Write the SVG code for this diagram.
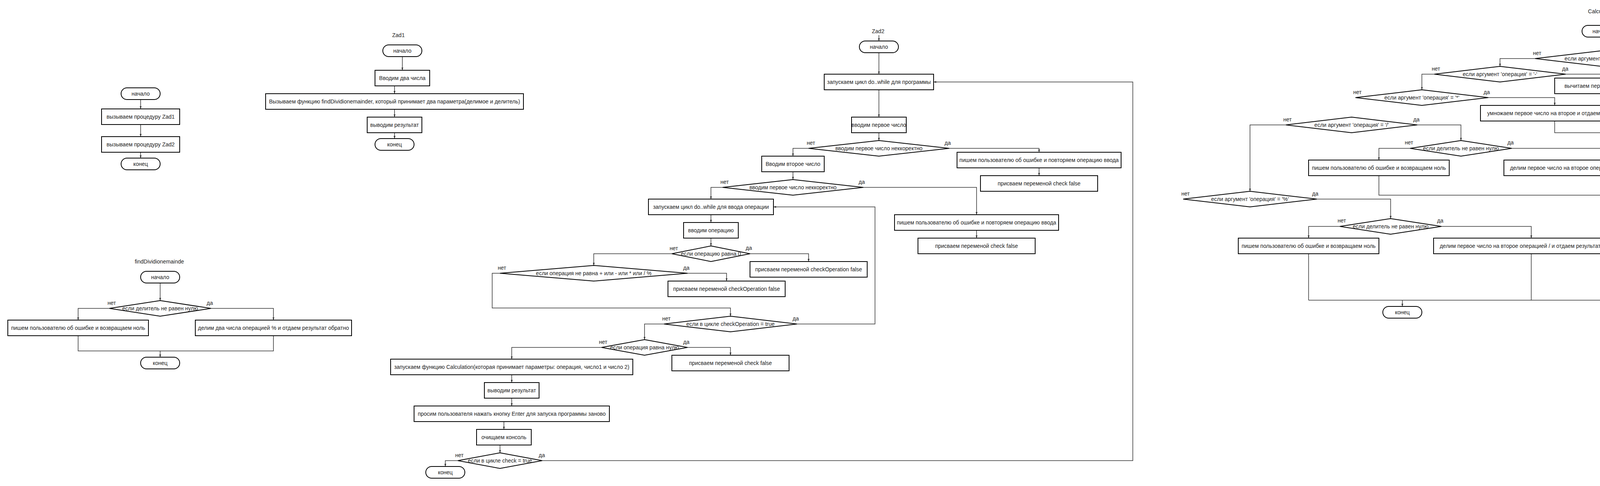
<svg xmlns="http://www.w3.org/2000/svg" width="4820" height="1245" viewBox="0 0 4820 1245">
<style>
.b{fill:#fff;stroke:#000;stroke-width:2}
.t{font-family:"Liberation Sans",Arial,sans-serif;font-size:14px;fill:#222;text-anchor:middle;dominant-baseline:central;white-space:pre}
.c{fill:none;stroke:#333;stroke-width:1.5}
.ca{fill:none;stroke:#333;stroke-width:1.5;marker-end:url(#a)}
</style>
<defs>
<marker id="a" viewBox="0 0 8 6" refX="8" refY="3" markerWidth="7" markerHeight="5" orient="auto" markerUnits="userSpaceOnUse"><path d="M0,0 L8,3 L0,6 z" fill="#333"/></marker>
</defs>
<rect width="4820" height="1245" fill="#fff"/>

<g id="connectors">
<path class="ca" d="M360,255 V279"/>
<path class="ca" d="M360,319 V350"/>
<path class="ca" d="M360,390 V405"/>
<path class="ca" d="M410,725 V770"/>
<path class="ca" d="M280,790 H200 V820"/>
<path class="ca" d="M540,790 H700 V820"/>
<path class="ca" d="M200,860 V899 H410 V915"/>
<path class="c" d="M700,860 V899 H410"/>
<path class="ca" d="M1030,145 V180"/>
<path class="ca" d="M1010,220 V240"/>
<path class="ca" d="M1010,280 V300"/>
<path class="ca" d="M1010,340 V355"/>
<path class="ca" d="M2250,90 V105"/>
<path class="ca" d="M2250,135 V190"/>
<path class="ca" d="M2250,230 V300"/>
<path class="ca" d="M2250,340 V360"/>
<path class="ca" d="M2430,380 H2660 V390"/>
<path class="ca" d="M2660,430 V450"/>
<path class="ca" d="M2070,380 H2030 V400"/>
<path class="ca" d="M2030,440 V460"/>
<path class="ca" d="M2210,480 H2500 V550"/>
<path class="ca" d="M2500,590 V610"/>
<path class="ca" d="M1850,480 H1820 V510"/>
<path class="ca" d="M1820,550 V570"/>
<path class="ca" d="M1820,610 V630"/>
<path class="ca" d="M1920,650 H2070 V670"/>
<path class="ca" d="M1720,650 H1520 V680"/>
<path class="ca" d="M1760,700 H1860 V720"/>
<path class="ca" d="M1280,700 H1260 V789 H1870 V810"/>
<path class="ca" d="M2040,830 H2240 V530 H1980"/>
<path class="ca" d="M1700,830 H1650 V870"/>
<path class="ca" d="M1760,890 H1870 V910"/>
<path class="ca" d="M1540,890 H1310 V920"/>
<path class="ca" d="M1310,960 V980"/>
<path class="ca" d="M1310,1020 V1040"/>
<path class="ca" d="M1290,1080 V1100"/>
<path class="ca" d="M1280,1140 V1160"/>
<path class="ca" d="M1172,1180 H1140 V1195"/>
<path class="ca" d="M1388,1180 H2900 V210 H2390"/>
<path class="ca" d="M4100,40 V65"/>
<path class="ca" d="M4100,95 V130"/>
<path class="ca" d="M4270,150 H4600 V160"/>
<path class="ca" d="M3930,150 H3840 V170"/>
<path class="ca" d="M4008,190 H4180 V200"/>
<path class="ca" d="M3672,190 H3640 V230"/>
<path class="ca" d="M3810,250 H3980 V270"/>
<path class="ca" d="M3628,320 H3740 V360"/>
<path class="ca" d="M3292,320 H3200 V490"/>
<path class="ca" d="M3610,380 H3530 V410"/>
<path class="ca" d="M3870,380 H4100 V410"/>
<path class="ca" d="M3371,510 H3560 V560"/>
<path class="ca" d="M3430,580 H3350 V610"/>
<path class="ca" d="M3690,580 H3920 V610"/>
<path class="c" d="M4600,200 V769"/>
<path class="c" d="M4180,240 V320 H4490 V769"/>
<path class="c" d="M3980,310 V340 H4420 V769"/>
<path class="c" d="M3530,450 V500 H4340 V769"/>
<path class="c" d="M4100,450 V600 H4230 V769"/>
<path class="c" d="M3350,650 V769"/>
<path class="c" d="M3920,650 V769"/>
<path class="c" d="M3350,769 H4600"/>
<path class="ca" d="M3590,769 V785"/>
</g>

<g id="m_start"><rect class="b" x="310" y="225" width="100" height="30" rx="15"/><text class="t" x="360" y="240">начало</text></g>
<g id="m_z1"><rect class="b" x="260" y="279" width="200" height="40"/><text class="t" x="360" y="299">вызываем процедуру Zad1</text></g>
<g id="m_z2"><rect class="b" x="260" y="350" width="200" height="40"/><text class="t" x="360" y="370">вызываем процедуру Zad2</text></g>
<g id="m_end"><rect class="b" x="310" y="405" width="100" height="30" rx="15"/><text class="t" x="360" y="420">конец</text></g>

<g id="fd_title"><text class="t" x="408" y="670">findDividionemainde</text></g>
<g id="fd_start"><rect class="b" x="360" y="695" width="100" height="30" rx="15"/><text class="t" x="410" y="710">начало</text></g>
<g id="fd_dec"><polygon class="b" points="410,770 540,790 410,810 280,790"/><text class="t" x="410" y="790">если делитель не равен нулю</text><text class="t" x="286" y="776">нет</text><text class="t" x="537" y="776">да</text></g>
<g id="fd_err"><rect class="b" x="20" y="820" width="360" height="40"/><text class="t" x="200" y="840">пишем пользователю об ошибке и возвращаем ноль</text></g>
<g id="fd_ok"><rect class="b" x="500" y="820" width="400" height="40"/><text class="t" x="700" y="840">делим два числа операцией % и отдаем результат обратно</text></g>
<g id="fd_end"><rect class="b" x="360" y="915" width="100" height="30" rx="15"/><text class="t" x="410" y="930">конец</text></g>

<g id="z1_title"><text class="t" x="1020" y="90">Zad1</text></g>
<g id="z1_start"><rect class="b" x="980" y="115" width="100" height="30" rx="15"/><text class="t" x="1030" y="130">начало</text></g>
<g id="z1_in"><rect class="b" x="960" y="180" width="140" height="40"/><text class="t" x="1030" y="200">Вводим два числа</text></g>
<g id="z1_call"><rect class="b" x="680" y="240" width="660" height="40"/><text class="t" x="1010" y="260">Вызываем функцию findDividionemainder, который принимает два параметра(делимое и делитель)</text></g>
<g id="z1_out"><rect class="b" x="940" y="300" width="140" height="40"/><text class="t" x="1010" y="320">выводим результат</text></g>
<g id="z1_end"><rect class="b" x="960" y="355" width="100" height="30" rx="15"/><text class="t" x="1010" y="370">конец</text></g>

<g id="z2_title"><text class="t" x="2248" y="80">Zad2</text></g>
<g id="z2_start"><rect class="b" x="2200" y="105" width="100" height="30" rx="15"/><text class="t" x="2250" y="120">начало</text></g>
<g id="z2_loop"><rect class="b" x="2110" y="190" width="280" height="40"/><text class="t" x="2250" y="210">запускаем цикл do..while для программы</text></g>
<g id="z2_in1"><rect class="b" x="2180" y="300" width="140" height="40"/><text class="t" x="2250" y="320">вводим первое число</text></g>
<g id="z2_d1"><polygon class="b" points="2250,360 2430,380 2250,400 2070,380"/><text class="t" x="2250" y="380">вводим первое число неккоректно</text><text class="t" x="2076" y="366">нет</text><text class="t" x="2426" y="366">да</text></g>
<g id="z2_err1"><rect class="b" x="2450" y="390" width="420" height="40"/><text class="t" x="2660" y="410">пишем пользователю об ошибке и повторяем операцию ввода</text></g>
<g id="z2_chk1"><rect class="b" x="2510" y="450" width="300" height="40"/><text class="t" x="2660" y="470">присваем переменой check false</text></g>
<g id="z2_in2"><rect class="b" x="1950" y="400" width="160" height="40"/><text class="t" x="2030" y="420">Вводим второе число</text></g>
<g id="z2_d2"><polygon class="b" points="2030,460 2210,480 2030,500 1850,480"/><text class="t" x="2030" y="480">вводим первое число неккоректно</text><text class="t" x="1855" y="466">нет</text><text class="t" x="2206" y="466">да</text></g>
<g id="z2_err2"><rect class="b" x="2290" y="550" width="420" height="40"/><text class="t" x="2500" y="570">пишем пользователю об ошибке и повторяем операцию ввода</text></g>
<g id="z2_chk2"><rect class="b" x="2350" y="610" width="300" height="40"/><text class="t" x="2500" y="630">присваем переменой check false</text></g>
<g id="z2_oploop"><rect class="b" x="1660" y="510" width="320" height="40"/><text class="t" x="1820" y="530">запускаем цикл do..while для ввода операции</text></g>
<g id="z2_op"><rect class="b" x="1750" y="570" width="140" height="40"/><text class="t" x="1820" y="590">вводим операцию</text></g>
<g id="z2_d3"><polygon class="b" points="1820,630 1920,650 1820,670 1720,650"/><text class="t" x="1820" y="650">если операцию равна 0</text><text class="t" x="1725" y="636">нет</text><text class="t" x="1917" y="635">да</text></g>
<g id="z2_co1"><rect class="b" x="1920" y="670" width="300" height="40"/><text class="t" x="2070" y="690">присваем переменой checkOperation false</text></g>
<g id="z2_d4"><polygon class="b" points="1520,680 1760,700 1520,720 1280,700"/><text class="t" x="1520" y="700">если операция не равна + или - или * или / %</text><text class="t" x="1285" y="686">нет</text><text class="t" x="1757" y="686">да</text></g>
<g id="z2_co2"><rect class="b" x="1710" y="720" width="300" height="40"/><text class="t" x="1860" y="740">присваем переменой checkOperation false</text></g>
<g id="z2_d5"><polygon class="b" points="1870,810 2040,830 1870,850 1700,830"/><text class="t" x="1870" y="830">если в цикле checkOperation = true</text><text class="t" x="1706" y="816">нет</text><text class="t" x="2037" y="816">да</text></g>
<g id="z2_d6"><polygon class="b" points="1650,870 1760,890 1650,910 1540,890"/><text class="t" x="1650" y="890">если операция равна нулю</text><text class="t" x="1544" y="876">нет</text><text class="t" x="1757" y="876">да</text></g>
<g id="z2_chk3"><rect class="b" x="1720" y="910" width="300" height="40"/><text class="t" x="1870" y="930">присваем переменой check false</text></g>
<g id="z2_calc"><rect class="b" x="1000" y="920" width="620" height="40"/><text class="t" x="1310" y="940">запускаем функцию Calculation(которая принимает параметры: операция, число1 и число 2)</text></g>
<g id="z2_out"><rect class="b" x="1240" y="980" width="140" height="40"/><text class="t" x="1310" y="1000">выводим результат</text></g>
<g id="z2_ask"><rect class="b" x="1060" y="1040" width="500" height="40"/><text class="t" x="1310" y="1060">просим пользователя нажать кнопку Enter для запуска программы заново</text></g>
<g id="z2_cls"><rect class="b" x="1220" y="1100" width="140" height="40"/><text class="t" x="1290" y="1120">очищаем консоль</text></g>
<g id="z2_d7"><polygon class="b" points="1280,1160 1388,1180 1280,1200 1172,1180"/><text class="t" x="1280" y="1180">если в цикле check = true</text><text class="t" x="1176" y="1166">нет</text><text class="t" x="1387" y="1166">да</text></g>
<g id="z2_end"><rect class="b" x="1090" y="1195" width="100" height="30" rx="15"/><text class="t" x="1140" y="1210">конец</text></g>

<g id="c_title"><text class="t" x="4100" y="29">Calculation</text></g>
<g id="c_start"><rect class="b" x="4050" y="65" width="100" height="30" rx="15"/><text class="t" x="4100" y="80">начало</text></g>
<g id="c_plus"><polygon class="b" points="4100,130 4270,150 4100,170 3930,150"/><text class="t" x="4100" y="150">если аргумент операция = '+'</text><text class="t" x="3935" y="136">нет</text><text class="t" x="4267" y="136">да</text></g>
<g id="c_add"><rect class="b" x="4400" y="160" width="400" height="40"/><text class="t" x="4600" y="180">складываем первое число с вторым  и отдаем обратно</text></g>
<g id="c_minus"><polygon class="b" points="3840,170 4008,190 3840,210 3672,190"/><text class="t" x="3840" y="190">если аргумент 'операция' = '-'</text><text class="t" x="3676" y="176">нет</text><text class="t" x="4007" y="176">да</text></g>
<g id="c_sub"><rect class="b" x="3980" y="200" width="400" height="40"/><text class="t" x="4180" y="220">вычитаем первое число от второго  и отдаем обратно</text></g>
<g id="c_muld"><polygon class="b" points="3640,230 3810,250 3640,270 3470,250"/><text class="t" x="3640" y="250">если аргумент 'операция' = '*'</text><text class="t" x="3475" y="236">нет</text><text class="t" x="3806" y="236">да</text></g>
<g id="c_mul"><rect class="b" x="3790" y="270" width="380" height="40"/><text class="t" x="3980" y="290">умножаем первое число на второе и отдаем обратно</text></g>
<g id="c_divd"><polygon class="b" points="3460,300 3628,320 3460,340 3292,320"/><text class="t" x="3460" y="320">если аргумент 'операция' = '/'</text><text class="t" x="3296" y="306">нет</text><text class="t" x="3626" y="306">да</text></g>
<g id="c_dz1"><polygon class="b" points="3740,360 3870,380 3740,400 3610,380"/><text class="t" x="3740" y="380">если делитель не равен нулю</text><text class="t" x="3607" y="365">нет</text><text class="t" x="3867" y="365">да</text></g>
<g id="c_err1"><rect class="b" x="3350" y="410" width="360" height="40"/><text class="t" x="3530" y="430">пишем пользователю об ошибке и возвращаем ноль</text></g>
<g id="c_div1"><rect class="b" x="3850" y="410" width="500" height="40"/><text class="t" x="4100" y="430">делим первое число на второе операцией / и отдаем результат обратно</text></g>
<g id="c_modd"><polygon class="b" points="3200,490 3371,510 3200,530 3029,510"/><text class="t" x="3200" y="510">если аргумент 'операция' = '%'</text><text class="t" x="3035" y="496">нет</text><text class="t" x="3367" y="496">да</text></g>
<g id="c_dz2"><polygon class="b" points="3560,560 3690,580 3560,600 3430,580"/><text class="t" x="3560" y="580">если делитель не равен нулю</text><text class="t" x="3435" y="565">нет</text><text class="t" x="3687" y="565">да</text></g>
<g id="c_err2"><rect class="b" x="3170" y="610" width="360" height="40"/><text class="t" x="3350" y="630">пишем пользователю об ошибке и возвращаем ноль</text></g>
<g id="c_div2"><rect class="b" x="3670" y="610" width="500" height="40"/><text class="t" x="3920" y="630">делим первое число на второе операцией / и отдаем результат обратно</text></g>
<g id="c_end"><rect class="b" x="3540" y="785" width="100" height="30" rx="15"/><text class="t" x="3590" y="800">конец</text></g>
</svg>
